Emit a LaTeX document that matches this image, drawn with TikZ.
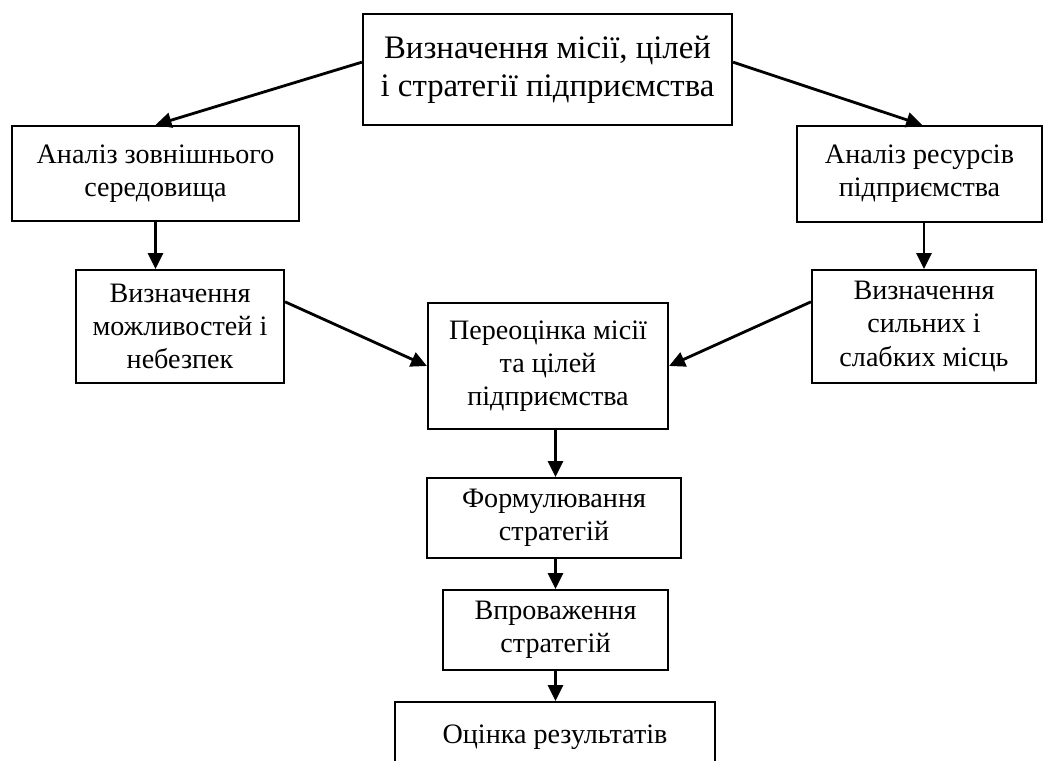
\documentclass[tikz,border=0pt]{standalone}
\usepackage{fontspec}
\setmainfont{Liberation Serif}
\usetikzlibrary{arrows.meta, positioning}

\begin{document}
\begin{tikzpicture} [semithick, block/.style ={draw, line width=0.9pt, rectangle, align=center, inner sep=2pt, font=\fontsize{12}{14.2}\selectfont}, link/.style ={line width=1.2pt, -{Triangle[length=6.8pt, width=6.4pt]}}]
	\useasboundingbox (0,0) rectangle (15.645,11.4);
		\node[block, minimum width=5.535cm, minimum height=1.665cm, font=\fontsize{14}{16.1}\selectfont] (mission) at (8.2125,10.3575) {Визначення місії, цілей\\і стратегії підприємства};
		\node[block, minimum width=4.305cm, minimum height=1.425cm] (env) at (2.3325,8.7975) {Аналіз зовнішнього\\середовища};
		\node[block, minimum width=3.12cm, minimum height=1.695cm] (opp) at (2.7,6.5025) {Визначення\\можливостей і\\небезпек};
		\node[block, minimum width=3.675cm, minimum height=1.44cm] (res) at (13.7925,8.79) {Аналіз ресурсів\\підприємства};
		\node[block, minimum width=3.36cm, minimum height=1.695cm] (swot) at (13.86,6.5025) {Визначення\\сильних і\\слабких місць};
		\node[block, minimum width=3.6cm, minimum height=1.89cm] (review) at (8.22,5.91) {Переоцінка місії\\та цілей\\підприємства};
		\node[block, minimum width=3.81cm, minimum height=1.2cm] (form) at (8.31,3.63) {Формулювання\\стратегій};
		\node[block, minimum width=3.375cm, minimum height=1.2cm] (impl) at (8.3325,1.95) {Впроваження\\стратегій};
		\node[block, minimum width=4.8cm, minimum height=1.05cm] (eval) at (8.325,0.345) {Оцінка результатів};
		\draw[link] ([yshift=0.11cm]mission.west) -- (env.north);
		\draw[link] ([yshift=0.11cm]mission.east) -- ([xshift=0.04cm]res.north);
		\draw[link] (env.south) -- (env.south |- opp.north);
		\draw[link] (swot.north |- res.south) -- (swot.north);
		\draw[link] ([yshift=0.37cm]opp.east) -- (review.west);
		\draw[link] ([yshift=0.37cm]swot.west) -- (review.east);
		\draw[link] (review.south -| impl.north) -- (impl.north |- form.north);
		\draw[link] (form.south -| impl.north) -- (impl.north);
		\draw[link] (impl.south) -- (impl.south |- eval.north);
	\end{tikzpicture}
\end{document}
